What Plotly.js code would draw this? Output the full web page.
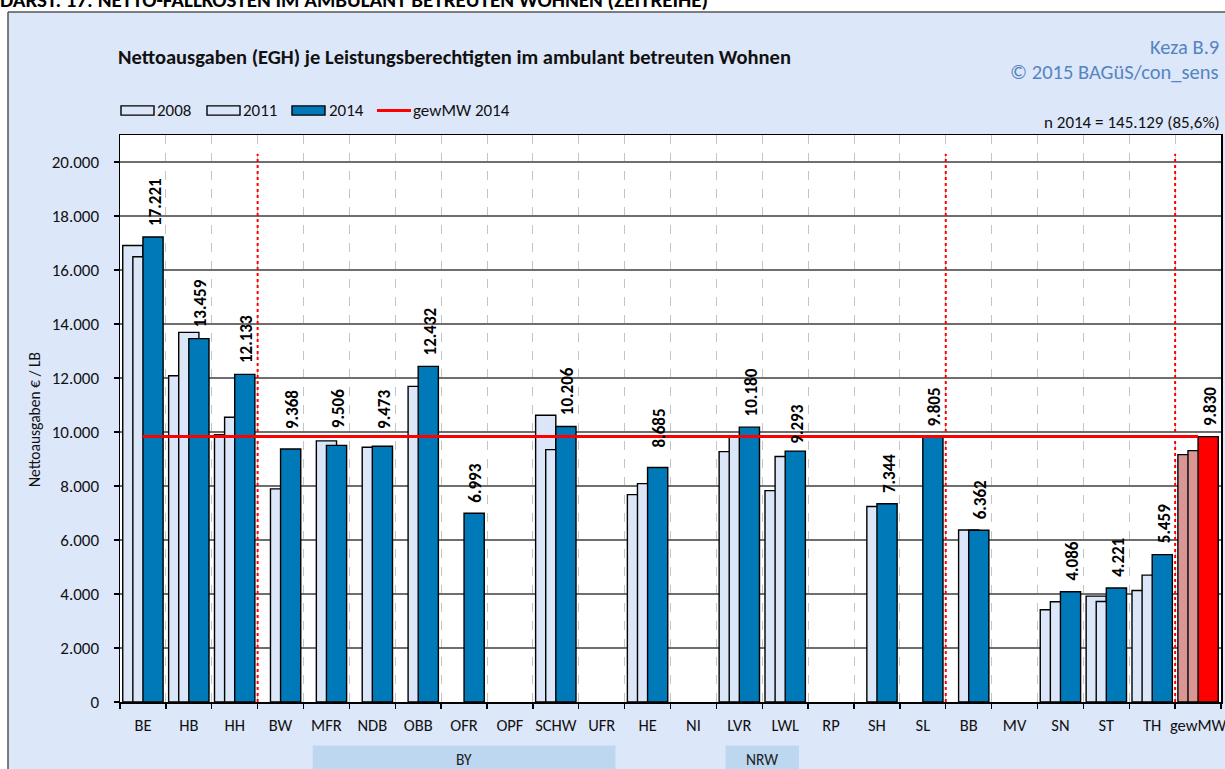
<!DOCTYPE html>
<html><head><meta charset="utf-8">
<script src="https://cdn.plot.ly/plotly-3.0.1.min.js"></script>
<style>html,body{margin:0;padding:0;background:#fff;overflow:hidden}#chart{width:1225px;height:769px}</style>
</head><body><div id="chart"></div>
<script>
// ---- data ----
const categories = ['BE','HB','HH','BW','MFR','NDB','OBB','OFR','OPF','SCHW','UFR','HE','NI','LVR','LWL','RP','SH','SL','BB','MV','SN','ST','TH','gewMW'];
const values2008 = [16910,12085,9900,null,null,null,null,null,null,10620,null,7682,null,9273,7830,null,null,null,null,null,3415,3922,4130,9162];
const values2011 = [16490,13690,10545,7893,9670,9435,11690,null,null,9347,null,8089,null,9820,9090,null,7238,null,6370,null,3711,3723,4699,9310];
const values2014 = [17221,13459,12133,9368,9506,9473,12432,6993,null,10206,null,8685,null,10180,9293,null,7344,9805,6362,null,4086,4221,5459,9830];
const gewMW2014 = 9830;
const yTicks = [0,2000,4000,6000,8000,10000,12000,14000,16000,18000,20000];
const separatorsAfter = ['HH','SL','TH'];
const regionGroups = [{label:'BY', from:'MFR', to:'UFR'}, {label:'NRW', from:'LVR', to:'LWL'}];
const seriesNames = ['2008','2011','2014','gewMW 2014'];
const chartTitle = 'Nettoausgaben (EGH) je Leistungsberechtigten im ambulant betreuten Wohnen';
const headline = 'DARST. 17: NETTO-FALLKOSTEN IM AMBULANT BETREUTEN WOHNEN (ZEITREIHE)';
const sourceLines = ['Keza B.9', '© 2015 BAGüS/con_sens'];
const nNote = 'n 2014 = 145.129 (85,6%)';
const yTitle = 'Nettoausgaben € / LB';

// ---- style / layout ----
const FONT = 'Calibri, Carlito, Lato, sans-serif';
const W = 1225, H = 769, L = 120, R = 4, T = 135, B = 67;
const PW = W - L - R, PH = H - T - B;
const fx = p => (p - L) / PW;
const fy = p => (H - B - p) / PH;
const LIGHT = '#dce6f9', BLUE = '#0079b8', PINK = '#d99694', RED = '#ff0000', PAPER = '#dde7fa';
const labelLift = {BW: 9, MFR: 6, NDB: 6, HE: 9, LWL: -4};
const fmt = v => Math.round(v).toString().replace(/\B(?=(\d{3})+(?!\d))/g, '.');
const idx = c => categories.indexOf(c);
const BARW = 0.44;

const lineStyle = {color: '#000', width: 1.4};
const traces = [
  {type: 'bar', name: seriesNames[0], x: categories, y: values2008, width: BARW, offset: -BARW,
   marker: {color: categories.map(c => c === 'gewMW' ? PINK : LIGHT), line: lineStyle}, hoverinfo: 'x+y'},
  {type: 'bar', name: seriesNames[1], x: categories, y: values2011, width: BARW, offset: -BARW / 2,
   marker: {color: categories.map(c => c === 'gewMW' ? PINK : LIGHT), line: lineStyle}, hoverinfo: 'x+y'},
  {type: 'bar', name: seriesNames[2], x: categories, y: values2014, width: BARW, offset: 0,
   marker: {color: categories.map(c => c === 'gewMW' ? RED : BLUE), line: lineStyle}, hoverinfo: 'x+y'},
  {type: 'scatter', mode: 'lines', name: seriesNames[3], x: [categories[0], categories[categories.length - 1]],
   y: [gewMW2014, gewMW2014], line: {color: RED, width: 3}, hoverinfo: 'y'}
];

const shapes = [];
const annotations = [];

// outer white margins and frame
shapes.push({type: 'rect', xref: 'paper', yref: 'paper', x0: fx(0), x1: fx(W), y0: fy(12), y1: fy(0), fillcolor: '#fff', line: {width: 0}, layer: 'below'});
shapes.push({type: 'rect', xref: 'paper', yref: 'paper', x0: fx(0), x1: fx(8), y0: fy(H), y1: fy(0), fillcolor: '#fff', line: {width: 0}, layer: 'below'});
shapes.push({type: 'line', xref: 'paper', yref: 'paper', x0: fx(8), x1: fx(W), y0: fy(12), y1: fy(12), line: {color: '#555', width: 1.5}});
shapes.push({type: 'line', xref: 'paper', yref: 'paper', x0: fx(8), x1: fx(8), y0: fy(12), y1: fy(H), line: {color: '#555', width: 1.5}});

// region group boxes (BY, NRW)
regionGroups.forEach(g => {
  const a = idx(g.from) - 0.3, b = idx(g.to) + 0.3;
  shapes.push({type: 'rect', xref: 'x', yref: 'paper', x0: a, x1: b, y0: fy(H + 2), y1: fy(745.5), fillcolor: '#bdd7f1', line: {width: 0}, layer: 'below'});
  annotations.push({xref: 'x', yref: 'paper', x: (a + b) / 2, y: fy(759), text: g.label, showarrow: false, borderpad: 0,
    font: {family: FONT, size: 15.5, color: '#222'}, xanchor: 'center', yanchor: 'middle'});
});

// red dotted separators
separatorsAfter.forEach(c => {
  const x = idx(c) + 0.5;
  shapes.push({type: 'line', xref: 'x', yref: 'y', x0: x, x1: x, y0: 0, y1: 20300, line: {color: RED, width: 2, dash: 'dot'}, layer: 'above'});
});

// data labels for 2014
values2014.forEach((v, i) => {
  if (v == null) return;
  annotations.push({xref: 'x', yref: 'y', x: i + BARW / 2 + 0.04, y: v, text: '<b>' + fmt(v) + '</b>', textangle: -90,
    showarrow: false, xanchor: 'center', yanchor: 'bottom', yshift: 9 + (labelLift[categories[i]] || 0),
    font: {family: FONT, size: 17, color: '#000'}});
});

// legend (drawn)
const legY = 110.5;
[[121, LIGHT, 157, seriesNames[0]], [207, LIGHT, 243, seriesNames[1]], [292, BLUE, 329, seriesNames[2]]].forEach(([x0, col, tx, name]) => {
  shapes.push({type: 'rect', xref: 'paper', yref: 'paper', x0: fx(x0), x1: fx(x0 + 33), y0: fy(legY + 4.6), y1: fy(legY - 4.6), fillcolor: col, line: {color: '#000', width: 1.4}});
  annotations.push({xref: 'paper', yref: 'paper', x: fx(tx - 2), y: fy(legY), text: name, showarrow: false, xanchor: 'left', yanchor: 'middle', font: {family: FONT, size: 17, color: '#111'}});
});
shapes.push({type: 'line', xref: 'paper', yref: 'paper', x0: fx(377), x1: fx(411), y0: fy(legY), y1: fy(legY), line: {color: RED, width: 3}});
annotations.push({xref: 'paper', yref: 'paper', x: fx(411), y: fy(legY), text: seriesNames[3], showarrow: false, xanchor: 'left', yanchor: 'middle', font: {family: FONT, size: 17, color: '#111'}});

// texts
annotations.push({xref: 'paper', yref: 'paper', x: fx(-2), y: fy(-0.5), text: '<b>' + headline + '</b>', showarrow: false, xanchor: 'left', yanchor: 'middle', font: {family: FONT, size: 21, color: '#000'}});
annotations.push({xref: 'paper', yref: 'paper', x: fx(116), y: fy(57), text: '<b>' + chartTitle + '</b>', showarrow: false, xanchor: 'left', yanchor: 'middle', font: {family: FONT, size: 20.5, color: '#111'}});
annotations.push({xref: 'paper', yref: 'paper', x: fx(1221), y: fy(47), text: sourceLines[0], showarrow: false, xanchor: 'right', yanchor: 'middle', font: {family: FONT, size: 20.5, color: '#5584c0'}});
annotations.push({xref: 'paper', yref: 'paper', x: fx(1221), y: fy(72), text: sourceLines[1], showarrow: false, xanchor: 'right', yanchor: 'middle', font: {family: FONT, size: 20.5, color: '#5584c0'}});
annotations.push({xref: 'paper', yref: 'paper', x: fx(1222), y: fy(122), text: nNote, showarrow: false, xanchor: 'right', yanchor: 'middle', font: {family: FONT, size: 17, color: '#111'}});
annotations.push({xref: 'paper', yref: 'paper', x: fx(34), y: fy(420), text: yTitle, textangle: -90, showarrow: false, xanchor: 'center', yanchor: 'middle', font: {family: FONT, size: 15.5, color: '#111'}});

const layout = {
  width: W, height: H,
  margin: {l: L, r: R, t: T, b: B, pad: 0},
  paper_bgcolor: PAPER, plot_bgcolor: '#fff',
  separators: ',.',
  barmode: 'overlay',
  showlegend: false,
  font: {family: FONT, size: 16, color: '#111'},
  xaxis: {type: 'category', categoryorder: 'array', categoryarray: categories, range: [-0.5, categories.length - 0.5],
    tickson: 'boundaries', ticks: 'outside', ticklen: 5, tickcolor: '#000', tickwidth: 1.3, tickangle: 0,
    showgrid: true, gridcolor: '#c4c4c4', griddash: 'dash', gridwidth: 1,
    showline: true, linecolor: '#000', linewidth: 1.5, mirror: true,
    tickfont: {family: FONT, size: 16.5, color: '#111'}, ticklabelstandoff: 8, fixedrange: true},
  yaxis: {range: [0, 21000], tickvals: yTicks, tickformat: ',d', ticks: 'outside', ticklen: 5, tickcolor: '#000', tickwidth: 1.3,
    showgrid: true, gridcolor: '#6e6e6e', gridwidth: 1.3, zeroline: false,
    showline: true, linecolor: '#000', linewidth: 1.5, mirror: true,
    tickfont: {family: FONT, size: 17, color: '#111'}, ticklabelstandoff: 11, fixedrange: true},
  shapes: shapes,
  annotations: annotations
};

Plotly.newPlot('chart', traces, layout, {displayModeBar: false, staticPlot: true});
</script>
</body></html>
